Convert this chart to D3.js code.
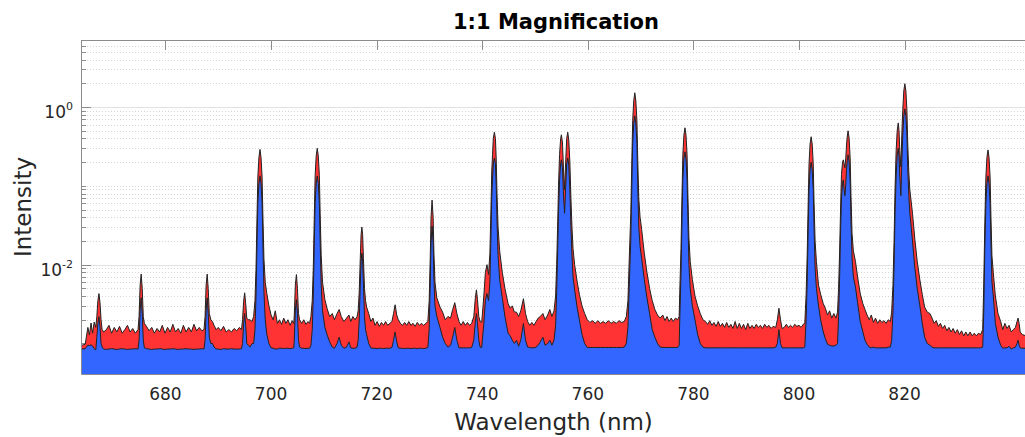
<!DOCTYPE html>
<html>
<head>
<meta charset="utf-8">
<script src="https://cdnjs.cloudflare.com/ajax/libs/d3/7.8.5/d3.min.js"></script>
<style>
    body { margin: 0; background: #fff; }
    svg { font-family: "DejaVu Sans", sans-serif; }
</style>
</head>
<body>
<svg class="chart"></svg>
<script>
// wavelength (nm) and the two spectra, one line per stretch
const WAVELENGTH = [
    664.0, 664.8, 665.3, 665.6, 665.9, 666.2, 666.5, 666.8, 667.0, 667.2, 667.4, 667.6, 667.8, 668.0, 668.3,
    668.8, 669.3, 669.8, 670.3, 670.8, 671.3, 671.8, 672.3, 672.8, 673.3, 673.8, 674.3, 674.8,
    675.0, 675.2, 675.4, 675.6, 675.8, 676.0,
    676.4, 676.9, 677.4, 677.9, 678.4, 678.9, 679.4, 679.9, 680.4, 680.9, 681.4, 681.9, 682.4, 682.9, 683.4, 683.9, 684.4, 684.9, 685.4, 685.9, 686.4, 686.9, 687.3,
    687.5, 687.7, 687.9, 688.1, 688.3, 688.6, 688.9, 689.2, 689.6,
    690.0, 690.5, 691.0, 691.5, 692.0, 692.5, 693.0, 693.5, 694.0, 694.4,
    694.6, 694.8, 695.0, 695.2, 695.4, 695.7, 696.0, 696.4, 696.7,
    696.95, 697.15, 697.35, 697.5, 697.7, 697.9, 698.1, 698.3, 698.45, 698.65, 698.9, 699.2, 699.6,
    700.0, 700.4, 700.8, 701.2, 701.6, 702.0, 702.4, 702.8, 703.2, 703.6, 704.0, 704.3,
    704.4, 704.6, 704.8, 705.0, 705.2, 705.4,
    705.8, 706.2, 706.6, 707.0, 707.3, 707.55,
    707.8, 708.0, 708.2, 708.35, 708.55, 708.75, 708.95, 709.15, 709.3, 709.5, 709.75, 710.2, 710.6,
    711.1, 711.6, 712.0, 712.5, 712.9, 713.3, 713.8, 714.3, 714.75, 715.1, 715.5, 715.9, 716.3,
    716.5, 716.7, 716.9, 717.05, 717.2, 717.35, 717.5, 717.7, 717.9, 718.1, 718.5,
    718.9, 719.3, 719.7, 720.1, 720.5, 720.9, 721.3, 721.7, 722.1, 722.5, 722.9,
    723.2, 723.5, 723.8,
    724.1, 724.5, 724.9, 725.3, 725.7, 726.1, 726.5, 726.9, 727.3, 727.7, 728.1, 728.5, 728.9, 729.3, 729.7,
    729.95, 730.15, 730.3, 730.5, 730.7, 730.85, 731.05, 731.4,
    732.0, 732.5, 733.0, 733.5, 734.0, 734.4, 734.8, 735.2, 735.6,
    736.0, 736.4, 736.8, 737.2, 737.6, 738.0, 738.4, 738.7, 738.9, 739.1, 739.35, 739.6, 739.9,
    740.3, 740.6, 740.9, 741.2, 741.45, 741.65, 741.8, 741.95, 742.1, 742.3, 742.5, 742.65, 742.8, 743.0, 743.3,
    743.8, 744.3, 744.9, 745.3, 745.7, 746.1, 746.5, 746.9, 747.3, 747.8, 748.2, 748.6,
    749.0, 749.4, 749.8, 750.2, 750.6, 751.0, 751.5, 751.9, 752.4, 752.8, 753.2, 753.6,
    753.9, 754.1, 754.3, 754.45, 754.65, 754.85, 755.0, 755.2, 755.4, 755.6, 755.8, 756.0, 756.2, 756.4, 756.6, 756.8, 757.0, 757.2, 757.5,
    758.0, 758.4, 758.9, 759.4, 759.9,
    760.4, 760.9, 761.4, 761.9, 762.4, 762.9, 763.4, 763.9, 764.4, 764.9, 765.4, 765.9, 766.4, 766.9, 767.3,
    767.6, 767.9, 768.15, 768.35, 768.5, 768.7, 768.9, 769.1, 769.3, 769.45, 769.65, 769.9, 770.2,
    770.7, 771.2, 771.7, 772.2, 772.7, 773.2, 773.7,
    774.2, 774.6, 775.0, 775.4, 775.8, 776.2, 776.6, 777.0, 777.3,
    777.45, 777.65, 777.85, 778.0, 778.2, 778.4, 778.6, 778.8, 778.95, 779.15, 779.4, 779.8, 780.3,
    780.8, 781.3, 781.8, 782.3, 782.7, 783.1, 783.5, 783.9, 784.3, 784.7, 785.1, 785.5, 785.9, 786.3, 786.7, 787.1, 787.5, 787.9, 788.3, 788.7,
    789.1, 789.5, 789.9, 790.3, 790.7, 791.1, 791.5, 791.9, 792.3, 792.7, 793.1, 793.5, 793.9, 794.3, 794.7, 795.1, 795.6,
    795.9, 796.2, 796.5,
    796.8, 797.2, 797.6, 798.0, 798.4, 798.8, 799.2, 799.6, 800.0, 800.4, 800.8, 801.1,
    801.35, 801.55, 801.75, 801.9, 802.1, 802.3, 802.5, 802.7, 802.85, 803.05, 803.3, 803.7, 804.1,
    804.6, 805.0, 805.4, 805.8, 806.2, 806.6, 807.0, 807.3,
    807.5, 807.7, 807.9, 808.05, 808.25, 808.4, 808.55, 808.7, 808.85, 809.0, 809.15, 809.3, 809.5, 809.7, 809.85, 810.05, 810.3, 810.7,
    811.1, 811.6, 812.1, 812.5, 812.9, 813.3, 813.7, 814.1, 814.5, 814.9, 815.3, 815.7, 816.1, 816.5, 816.9, 817.3,
    817.55, 817.8, 818.0, 818.2, 818.4, 818.6, 818.8, 818.95, 819.1, 819.3, 819.5, 819.65, 819.85, 820.05, 820.25, 820.45, 820.6, 820.8, 821.0,
    821.5, 821.95, 822.4, 822.9, 823.35, 823.8, 824.3, 824.8, 825.2, 825.6,
    826.0, 826.4, 826.8, 827.2, 827.6, 828.0, 828.4, 828.8, 829.2, 829.6, 830.0, 830.4, 830.8, 831.2, 831.6, 832.0, 832.4, 832.8, 833.2, 833.6, 834.0, 834.4, 834.8,
    835.0, 835.2, 835.4, 835.6, 835.8, 836.0, 836.2, 836.35, 836.55, 836.8, 837.2, 837.7,
    838.2, 838.6, 839.0, 839.4, 839.8, 840.2, 840.6, 841.0, 841.3, 841.5, 841.7, 841.9, 842.3, 843.0
];

// upper (red) spectrum
const RED_INTENSITY = [
    9.4e-4, 9.8e-4, 1.6e-3, 1.28e-3, 1.82e-3, 1.35e-3, 1.87e-3, 1.6e-3, 2.2e-3, 3.5e-3, 4.3e-3, 3.3e-3, 2.0e-3, 1.5e-3, 1.4e-3,
    1.5e-3, 1.7e-3, 1.35e-3, 1.6e-3, 1.4e-3, 1.65e-3, 1.35e-3, 1.5e-3, 1.7e-3, 1.4e-3, 1.55e-3, 1.35e-3, 1.5e-3,
    2.2e-3, 5.5e-3, 7.6e-3, 5.0e-3, 2.2e-3, 1.8e-3,
    1.65e-3, 1.45e-3, 1.6e-3, 1.35e-3, 1.55e-3, 1.4e-3, 1.7e-3, 1.35e-3, 1.6e-3, 1.4e-3, 1.75e-3, 1.4e-3, 1.55e-3, 1.35e-3, 1.7e-3, 1.4e-3, 1.6e-3, 1.4e-3, 1.75e-3, 1.45e-3, 1.6e-3, 1.45e-3, 1.5e-3,
    2.2e-3, 5.5e-3, 7.6e-3, 5.0e-3, 2.4e-3, 2.0e-3, 1.9e-3, 1.7e-3, 1.5e-3,
    1.6e-3, 1.45e-3, 1.65e-3, 1.4e-3, 1.5e-3, 1.4e-3, 1.55e-3, 1.45e-3, 1.6e-3, 1.5e-3,
    2.0e-3, 3.4e-3, 4.4e-3, 3.2e-3, 2.1e-3, 2.0e-3, 2.0e-3, 1.9e-3, 2.2e-3,
    3.5e-3, 8.7e-3, 4.4e-2, 0.13, 0.23, 0.29, 0.23, 0.13, 4.4e-2, 1.2e-2, 6.0e-3, 4.3e-3, 3.0e-3,
    2.3e-3, 2.0e-3, 2.6e-3, 1.8e-3, 2.0e-3, 1.75e-3, 2.1e-3, 1.8e-3, 2.0e-3, 1.7e-3, 1.95e-3, 1.8e-3,
    2.3e-3, 5.5e-3, 7.5e-3, 5.0e-3, 2.4e-3, 2.0e-3,
    1.8e-3, 2.0e-3, 1.75e-3, 1.9e-3, 1.8e-3, 2.2e-3,
    3.5e-3, 9.0e-3, 4.5e-2, 0.135, 0.24, 0.30, 0.24, 0.135, 4.5e-2, 1.3e-2, 6.0e-3, 3.6e-3, 2.8e-3,
    2.2e-3, 2.4e-3, 2.0e-3, 2.4e-3, 2.7e-3, 2.2e-3, 1.9e-3, 2.1e-3, 2.3e-3, 1.9e-3, 2.2e-3, 2.0e-3, 2.2e-3,
    2.6e-3, 4.5e-3, 1.2e-2, 2.4e-2, 3.0e-2, 2.4e-2, 1.2e-2, 5.0e-3, 3.5e-3, 2.9e-3, 2.4e-3,
    1.9e-3, 2.1e-3, 1.7e-3, 1.9e-3, 1.65e-3, 1.85e-3, 1.7e-3, 1.9e-3, 1.7e-3, 1.8e-3, 1.9e-3,
    2.4e-3, 3.1e-3, 2.3e-3,
    2.0e-3, 1.8e-3, 1.7e-3, 1.85e-3, 1.7e-3, 1.9e-3, 1.7e-3, 1.8e-3, 1.65e-3, 1.85e-3, 1.7e-3, 1.8e-3, 1.7e-3, 1.8e-3, 1.9e-3,
    3.5e-3, 1.2e-2, 4.0e-2, 6.6e-2, 4.0e-2, 1.4e-2, 6.0e-3, 3.8e-3,
    2.9e-3, 2.5e-3, 2.0e-3, 2.2e-3, 2.1e-3, 2.7e-3, 3.3e-3, 2.4e-3, 1.9e-3,
    1.7e-3, 1.9e-3, 1.7e-3, 1.85e-3, 1.7e-3, 1.8e-3, 2.2e-3, 3.8e-3, 4.8e-3, 3.6e-3, 2.2e-3, 1.9e-3, 1.85e-3,
    4.0e-3, 8.0e-3, 1.0e-2, 7.5e-3, 1.4e-2, 5.0e-2, 0.15, 0.25, 0.4, 0.48, 0.4, 0.22, 8.0e-2, 3.0e-2, 1.5e-2,
    8.0e-3, 5.0e-3, 3.2e-3, 2.8e-3, 3.0e-3, 2.5e-3, 2.5e-3, 2.2e-3, 2.6e-3, 3.7e-3, 2.4e-3, 1.9e-3,
    1.7e-3, 1.85e-3, 1.7e-3, 1.9e-3, 2.1e-3, 2.2e-3, 2.4e-3, 2.0e-3, 2.3e-3, 2.7e-3, 2.2e-3, 2.6e-3,
    4.0e-3, 1.0e-2, 3.5e-2, 0.1, 0.25, 0.4, 0.445, 0.35, 0.16, 9.0e-2, 0.2, 0.4, 0.48, 0.38, 0.2, 7.0e-2, 3.0e-2, 1.6e-2, 1.0e-2,
    6.0e-3, 4.2e-3, 3.0e-3, 2.4e-3, 2.0e-3,
    1.85e-3, 1.95e-3, 1.8e-3, 1.95e-3, 1.8e-3, 1.9e-3, 1.8e-3, 1.95e-3, 1.8e-3, 1.9e-3, 1.8e-3, 1.95e-3, 1.85e-3, 1.9e-3, 2.2e-3,
    3.5e-3, 1.5e-2, 4.6e-2, 0.23, 0.68, 1.2, 1.52, 1.2, 0.68, 0.23, 7.0e-2, 4.0e-2, 2.8e-2,
    1.4e-2, 8.0e-3, 5.0e-3, 3.5e-3, 2.7e-3, 2.3e-3, 2.1e-3,
    2.3e-3, 1.95e-3, 2.2e-3, 1.9e-3, 2.1e-3, 1.9e-3, 2.1e-3, 2.0e-3, 2.2e-3,
    5.5e-3, 1.6e-2, 8.2e-2, 0.25, 0.44, 0.546, 0.44, 0.25, 8.2e-2, 2.2e-2, 1.1e-2, 6.5e-3, 4.0e-3,
    3.0e-3, 2.4e-3, 2.0e-3, 1.9e-3, 1.75e-3, 1.95e-3, 1.7e-3, 1.85e-3, 1.65e-3, 1.9e-3, 1.65e-3, 1.8e-3, 1.6e-3, 1.85e-3, 1.6e-3, 1.75e-3, 1.55e-3, 1.9e-3, 1.55e-3, 1.8e-3,
    1.55e-3, 1.75e-3, 1.5e-3, 1.8e-3, 1.55e-3, 1.7e-3, 1.55e-3, 1.75e-3, 1.6e-3, 1.7e-3, 1.55e-3, 1.75e-3, 1.6e-3, 1.7e-3, 1.55e-3, 1.65e-3, 1.6e-3,
    2.0e-3, 2.8e-3, 2.0e-3,
    1.55e-3, 1.6e-3, 1.75e-3, 1.6e-3, 1.7e-3, 1.6e-3, 1.75e-3, 1.65e-3, 1.7e-3, 1.6e-3, 1.75e-3, 1.8e-3,
    4.2e-3, 1.3e-2, 6.3e-2, 0.19, 0.34, 0.42, 0.34, 0.19, 6.3e-2, 2.0e-2, 1.1e-2, 5.5e-3, 4.2e-3,
    3.2e-3, 2.8e-3, 2.3e-3, 2.6e-3, 2.1e-3, 2.4e-3, 2.1e-3, 2.5e-3,
    5.0e-3, 1.5e-2, 6.0e-2, 0.14, 0.2, 0.214, 0.19, 0.17, 0.22, 0.33, 0.43, 0.5, 0.4, 0.22, 7.5e-2, 2.5e-2, 1.5e-2, 1.1e-2,
    7.0e-3, 4.3e-3, 3.2e-3, 2.7e-3, 2.3e-3, 2.0e-3, 2.3e-3, 1.85e-3, 2.1e-3, 1.8e-3, 2.0e-3, 1.85e-3, 1.95e-3, 1.8e-3, 2.0e-3, 1.9e-3,
    2.5e-3, 5.5e-3, 1.9e-2, 9.5e-2, 0.28, 0.5, 0.63, 0.5, 0.28, 0.174, 0.5, 0.9, 1.6, 1.98, 1.6, 0.9, 0.35, 0.15, 8.9e-2,
    4.5e-2, 2.1e-2, 1.1e-2, 6.4e-3, 4.2e-3, 2.9e-3, 2.5e-3, 2.4e-3, 2.1e-3, 1.8e-3,
    1.95e-3, 1.65e-3, 1.8e-3, 1.55e-3, 1.7e-3, 1.45e-3, 1.6e-3, 1.4e-3, 1.55e-3, 1.35e-3, 1.5e-3, 1.3e-3, 1.45e-3, 1.25e-3, 1.4e-3, 1.25e-3, 1.4e-3, 1.25e-3, 1.35e-3, 1.25e-3, 1.35e-3, 1.3e-3, 1.5e-3,
    5.7e-3, 3.4e-2, 0.13, 0.23, 0.286, 0.23, 0.13, 4.3e-2, 1.3e-2, 8.0e-3, 4.0e-3, 2.4e-3,
    1.9e-3, 1.5e-3, 1.8e-3, 1.55e-3, 1.7e-3, 1.4e-3, 1.5e-3, 1.6e-3, 1.9e-3, 2.1e-3, 1.8e-3, 1.4e-3, 1.3e-3, 1.25e-3
];

// lower (blue) spectrum
const BLUE_INTENSITY = [
    8.5e-4, 8.6e-4, 9.5e-4, 9.4e-4, 9.6e-4, 9.3e-4, 8.6e-4, 8.3e-4, 1.2e-3, 1.8e-3, 2.2e-3, 1.6e-3, 1.0e-3, 9.0e-4, 8.5e-4,
    8.4e-4, 8.5e-4, 8.6e-4, 8.5e-4, 8.4e-4, 8.5e-4, 8.6e-4, 8.5e-4, 8.4e-4, 8.5e-4, 8.5e-4, 8.6e-4, 8.5e-4,
    1.1e-3, 2.6e-3, 3.8e-3, 2.4e-3, 1.1e-3, 8.8e-4,
    8.6e-4, 8.5e-4, 8.4e-4, 8.5e-4, 8.5e-4, 8.6e-4, 8.5e-4, 8.4e-4, 8.5e-4, 8.5e-4, 8.6e-4, 8.5e-4, 8.4e-4, 8.5e-4, 8.5e-4, 8.6e-4, 8.5e-4, 8.5e-4, 8.4e-4, 8.5e-4, 8.5e-4, 8.6e-4, 8.5e-4,
    1.1e-3, 2.6e-3, 3.8e-3, 2.4e-3, 1.2e-3, 1.0e-3, 1.0e-3, 9.0e-4, 8.5e-4,
    8.5e-4, 8.4e-4, 8.6e-4, 8.5e-4, 8.5e-4, 8.6e-4, 8.5e-4, 8.5e-4, 8.5e-4, 8.6e-4,
    1.0e-3, 1.8e-3, 2.4e-3, 1.7e-3, 1.0e-3, 9.5e-4, 9.0e-4, 1.0e-3, 1.0e-3,
    1.5e-3, 4.0e-3, 2.0e-2, 6.0e-2, 0.107, 0.134, 0.107, 6.0e-2, 2.0e-2, 4.5e-3, 2.0e-3, 1.3e-3, 1.0e-3,
    8.8e-4, 8.7e-4, 8.5e-4, 8.5e-4, 8.7e-4, 8.7e-4, 8.6e-4, 8.7e-4, 8.7e-4, 8.6e-4, 8.7e-4, 8.8e-4,
    1.1e-3, 2.6e-3, 3.6e-3, 2.4e-3, 1.1e-3, 9.0e-4,
    8.7e-4, 8.7e-4, 8.6e-4, 8.7e-4, 8.7e-4, 9.5e-4,
    1.5e-3, 4.0e-3, 2.0e-2, 6.0e-2, 0.107, 0.134, 0.107, 6.0e-2, 2.0e-2, 5.5e-3, 2.6e-3, 1.6e-3, 1.3e-3,
    1.05e-3, 9.0e-4, 8.7e-4, 1.0e-3, 1.2e-3, 9.5e-4, 8.7e-4, 9.0e-4, 1.05e-3, 8.8e-4, 8.7e-4, 8.7e-4, 9.0e-4,
    1.1e-3, 2.0e-3, 5.5e-3, 1.1e-2, 1.4e-2, 1.1e-2, 5.5e-3, 2.2e-3, 1.5e-3, 1.3e-3, 1.0e-3,
    8.8e-4, 8.7e-4, 8.7e-4, 8.6e-4, 8.7e-4, 8.7e-4, 8.6e-4, 8.7e-4, 8.7e-4, 8.7e-4, 8.9e-4,
    1.1e-3, 1.4e-3, 1.05e-3,
    8.8e-4, 8.7e-4, 8.7e-4, 8.6e-4, 8.7e-4, 8.7e-4, 8.6e-4, 8.7e-4, 8.7e-4, 8.6e-4, 8.7e-4, 8.7e-4, 8.6e-4, 8.7e-4, 8.9e-4,
    1.5e-3, 5.5e-3, 1.9e-2, 3.1e-2, 1.9e-2, 6.5e-3, 3.0e-3, 2.2e-3,
    1.6e-3, 1.2e-3, 1.0e-3, 9.0e-4, 9.5e-4, 1.2e-3, 1.6e-3, 1.1e-3, 8.8e-4,
    8.8e-4, 8.8e-4, 8.8e-4, 8.8e-4, 8.8e-4, 8.9e-4, 1.1e-3, 1.9e-3, 2.4e-3, 1.8e-3, 1.1e-3, 9.0e-4, 8.9e-4,
    1.8e-3, 3.5e-3, 4.3e-3, 3.5e-3, 6.0e-3, 2.2e-2, 7.0e-2, 0.12, 0.19, 0.226, 0.19, 0.10, 3.6e-2, 1.3e-2, 6.5e-3,
    3.8e-3, 2.2e-3, 1.35e-3, 1.25e-3, 1.1e-3, 1.0e-3, 1.1e-3, 9.2e-4, 1.1e-3, 1.8e-3, 1.1e-3, 9.0e-4,
    8.9e-4, 8.8e-4, 8.8e-4, 9.0e-4, 9.5e-4, 1.05e-3, 1.2e-3, 9.5e-4, 1.0e-3, 1.1e-3, 9.5e-4, 1.1e-3,
    1.7e-3, 4.5e-3, 1.6e-2, 4.5e-2, 0.12, 0.19, 0.214, 0.17, 7.5e-2, 4.5e-2, 9.5e-2, 0.19, 0.226, 0.18, 9.0e-2, 3.0e-2, 1.3e-2, 7.0e-3, 4.8e-3,
    2.8e-3, 2.0e-3, 1.3e-3, 1.0e-3, 8.9e-4,
    8.9e-4, 8.9e-4, 8.9e-4, 8.9e-4, 8.9e-4, 8.9e-4, 8.9e-4, 8.9e-4, 8.9e-4, 8.9e-4, 8.9e-4, 8.9e-4, 8.9e-4, 9.0e-4, 1.0e-3,
    1.6e-3, 7.0e-3, 2.2e-2, 0.11, 0.35, 0.62, 0.775, 0.62, 0.35, 0.11, 3.0e-2, 1.7e-2, 1.2e-2,
    6.5e-3, 3.8e-3, 2.4e-3, 1.5e-3, 1.2e-3, 1.0e-3, 9.0e-4,
    8.9e-4, 8.9e-4, 8.9e-4, 8.9e-4, 8.9e-4, 8.9e-4, 8.9e-4, 8.9e-4, 9.5e-4,
    2.5e-3, 7.5e-3, 4.0e-2, 0.12, 0.22, 0.27, 0.22, 0.12, 4.0e-2, 1.0e-2, 5.0e-3, 3.0e-3, 2.0e-3,
    1.3e-3, 1.0e-3, 9.0e-4, 8.8e-4, 8.8e-4, 8.8e-4, 8.8e-4, 8.8e-4, 8.8e-4, 8.8e-4, 8.8e-4, 8.8e-4, 8.8e-4, 8.8e-4, 8.8e-4, 8.8e-4, 8.8e-4, 8.8e-4, 8.8e-4, 8.8e-4,
    8.8e-4, 8.8e-4, 8.8e-4, 8.8e-4, 8.8e-4, 8.8e-4, 8.8e-4, 8.8e-4, 8.8e-4, 8.8e-4, 8.8e-4, 8.8e-4, 8.8e-4, 8.8e-4, 8.8e-4, 8.8e-4, 9.0e-4,
    1.0e-3, 1.5e-3, 1.0e-3,
    8.8e-4, 8.8e-4, 8.8e-4, 8.8e-4, 8.8e-4, 8.8e-4, 8.8e-4, 8.8e-4, 8.8e-4, 8.8e-4, 8.8e-4, 9.0e-4,
    2.0e-3, 6.0e-3, 3.0e-2, 9.0e-2, 0.16, 0.2, 0.16, 9.0e-2, 3.0e-2, 9.0e-3, 5.0e-3, 3.0e-3, 2.0e-3,
    1.4e-3, 1.15e-3, 9.8e-4, 9.5e-4, 9.3e-4, 9.3e-4, 9.5e-4, 1.0e-3,
    2.2e-3, 7.0e-3, 3.0e-2, 7.0e-2, 0.11, 0.119, 0.09, 7.5e-2, 0.1, 0.16, 0.21, 0.248, 0.2, 0.11, 3.5e-2, 1.2e-2, 7.0e-3, 5.2e-3,
    3.3e-3, 1.9e-3, 1.4e-3, 1.1e-3, 9.8e-4, 9.0e-4, 8.8e-4, 9.0e-4, 8.8e-4, 8.8e-4, 8.8e-4, 8.8e-4, 8.8e-4, 8.8e-4, 9.0e-4, 9.0e-4,
    1.1e-3, 2.5e-3, 9.0e-3, 4.5e-2, 0.135, 0.24, 0.30, 0.24, 0.13, 7.5e-2, 0.22, 0.43, 0.76, 0.95, 0.76, 0.43, 0.17, 7.5e-2, 4.5e-2,
    2.0e-2, 9.0e-3, 5.0e-3, 3.0e-3, 1.8e-3, 1.2e-3, 1.0e-3, 9.5e-4, 9.0e-4, 8.8e-4,
    8.8e-4, 8.8e-4, 8.8e-4, 8.8e-4, 8.8e-4, 8.8e-4, 8.8e-4, 8.8e-4, 8.8e-4, 8.8e-4, 8.8e-4, 8.8e-4, 8.8e-4, 8.8e-4, 8.8e-4, 8.8e-4, 8.8e-4, 8.8e-4, 8.8e-4, 8.8e-4, 8.8e-4, 8.8e-4, 9.0e-4,
    2.5e-3, 1.6e-2, 6.0e-2, 0.107, 0.134, 0.107, 6.0e-2, 2.0e-2, 6.0e-3, 4.0e-3, 1.8e-3, 1.2e-3,
    9.5e-4, 8.7e-4, 8.8e-4, 8.8e-4, 9.2e-4, 8.5e-4, 8.8e-4, 9.0e-4, 1.0e-3, 1.1e-3, 9.5e-4, 8.8e-4, 8.7e-4, 8.7e-4
];

const X_TICKS = [680, 700, 720, 740, 760, 780, 800, 820];
const Y_TICKS = [1e-2, 1e0];
const Y_TICK_EXP = ['-2', '0'];

const TITLE = '1:1 Magnification';
const X_LABEL = 'Wavelength (nm)';
const Y_LABEL = 'Intensity';

const WIDTH = 1025, HEIGHT = 437;
const margins = { top: 40, right: -1, bottom: 63, left: 81 };
const PW = WIDTH - margins.left - margins.right;
const PH = HEIGHT - margins.top - margins.bottom;

const N = Math.min(WAVELENGTH.length, RED_INTENSITY.length, BLUE_INTENSITY.length);
const data = d3.range(N).map(i => ({ w: WAVELENGTH[i], r: RED_INTENSITY[i], b: BLUE_INTENSITY[i] }));

var x = d3.scaleLinear().domain([664, 843]).range([0, PW]);
var y = d3.scaleLog().domain([4.1e-4, 7.1]).range([PH, 0]);

var svg = d3.select('.chart')
    .attr('width', WIDTH)
    .attr('height', HEIGHT);

var g = svg.append('g')
    .attr('transform', 'translate(' + margins.left + ',' + margins.top + ')');

svg.append('defs').append('clipPath').attr('id', 'plot')
    .append('rect').attr('width', PW).attr('height', PH);

const py = d => Math.round(y(d)) + 0.5;

// grid: solid at labelled decades, dotted elsewhere
const minor = y.ticks().filter(v => !Y_TICKS.some(t => Math.abs(v / t - 1) < 1e-6));
g.selectAll('.minor').data(minor).enter().append('line')
    .attr('x1', 0).attr('x2', PW)
    .attr('y1', py).attr('y2', py)
    .attr('stroke', '#d4d4d4').attr('stroke-dasharray', '1,2');
g.selectAll('.major').data(Y_TICKS).enter().append('line')
    .attr('x1', 0).attr('x2', PW)
    .attr('y1', py).attr('y2', py)
    .attr('stroke', '#e2e2e2').attr('stroke-width', 1.2);

// ticks (inside the box)
const tickCol = '#8c8c8c';
g.selectAll('.ymin').data(minor).enter().append('line')
    .attr('x1', 0).attr('x2', 5)
    .attr('y1', py).attr('y2', py)
    .attr('stroke', tickCol);
g.selectAll('.ymaj').data(Y_TICKS).enter().append('line')
    .attr('x1', 0).attr('x2', 10)
    .attr('y1', py).attr('y2', py)
    .attr('stroke', tickCol);
g.selectAll('.xtop').data(X_TICKS).enter().append('line')
    .attr('x1', d => Math.round(x(d)) + 0.5).attr('x2', d => Math.round(x(d)) + 0.5)
    .attr('y1', 0).attr('y2', 10)
    .attr('stroke', tickCol);

// spectra
var plot = g.append('g').attr('clip-path', 'url(#plot)');

var areaR = d3.area().x(d => x(d.w)).y0(PH).y1(d => y(d.r));
var areaB = d3.area().x(d => x(d.w)).y0(PH).y1(d => y(d.b));
var lineR = d3.line().x(d => x(d.w)).y(d => y(d.r));
var lineB = d3.line().x(d => x(d.w)).y(d => y(d.b));

plot.append('path').datum(data).attr('d', areaR).attr('fill', '#ff3333');
plot.append('path').datum(data).attr('d', lineR)
    .attr('fill', 'none').attr('stroke', '#222').attr('stroke-width', 1);
plot.append('path').datum(data).attr('d', areaB).attr('fill', '#3366ff');
plot.append('path').datum(data).attr('d', lineB)
    .attr('fill', 'none').attr('stroke', '#222').attr('stroke-width', 1);

// box
g.append('path')
    .attr('d', 'M' + (PW + 0.5) + ',0.5H0.5V' + (PH + 0.5) + 'H' + (PW + 0.5))
    .attr('fill', 'none').attr('stroke', tickCol);

// tick labels
g.selectAll('.xlab').data(X_TICKS).enter().append('text')
    .text(d => d)
    .attr('x', d => x(d))
    .attr('y', PH + 26)
    .attr('text-anchor', 'middle')
    .attr('font-size', 17)
    .attr('fill', '#262626');

var yl = g.selectAll('.ylab').data(Y_TICKS).enter().append('text')
    .attr('x', -8)
    .attr('y', d => y(d) + 11)
    .attr('text-anchor', 'end')
    .attr('fill', '#262626');
yl.append('tspan').attr('font-size', 17).text('10');
yl.append('tspan').attr('font-size', 11).attr('dy', -8).text((d, i) => Y_TICK_EXP[i]);

// labels and title
svg.append('text')
    .text(TITLE)
    .attr('x', 556)
    .attr('y', 29)
    .attr('text-anchor', 'middle')
    .attr('font-size', 21)
    .attr('font-weight', 'bold')
    .attr('fill', '#000');

svg.append('text')
    .text(X_LABEL)
    .attr('x', margins.left + PW / 2)
    .attr('y', 430)
    .attr('text-anchor', 'middle')
    .attr('font-size', 23)
    .attr('fill', '#262626');

svg.append('text')
    .text(Y_LABEL)
    .attr('transform', 'translate(31,' + (margins.top + PH / 2) + ') rotate(-90)')
    .attr('text-anchor', 'middle')
    .attr('font-size', 23)
    .attr('fill', '#262626');
</script>
</body>
</html>
